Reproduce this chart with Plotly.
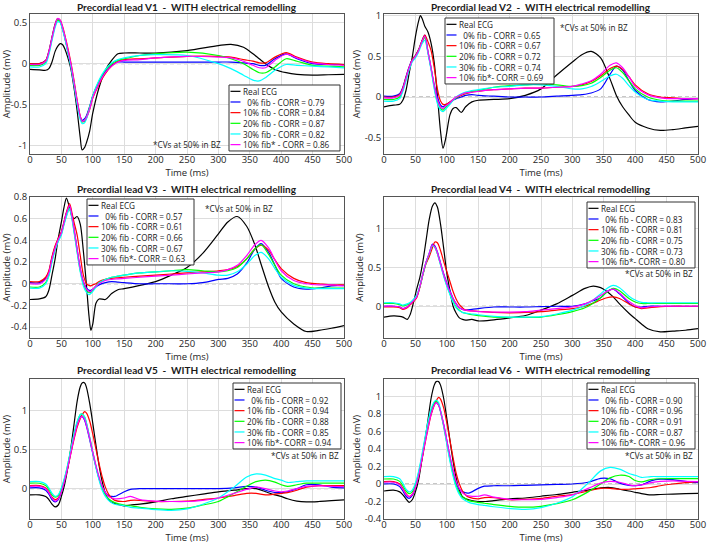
import plotly.graph_objects as go

# ---------------- data ----------------
TIME_TICKS = [0, 50, 100, 150, 200, 250, 300, 350, 400, 450, 500]

# ---- V1 ----
V1_T = [0, 15, 25, 30, 35, 40, 44, 48, 52, 56, 60, 65, 70, 75, 80, 83, 87, 90, 95, 100,
        110, 120, 130, 140, 150, 175, 200, 250, 300, 320, 340, 355, 365, 375, 390, 408, 425, 450, 475, 500]
V1_REAL = [-0.07, -0.075, -0.08, -0.06, 0.02, 0.15, 0.21, 0.245, 0.23, 0.17,
           0.08, -0.06, -0.29, -0.57, -0.9, -1.05, -1.02, -0.96, -0.82, -0.6,
           -0.29, -0.08, 0.04, 0.12, 0.13, 0.13, 0.13, 0.16, 0.22, 0.235,
           0.2, 0.12, 0.06, 0.0, -0.07, -0.11, -0.13, -0.14, -0.135, -0.13]
V1_FIB0 = [0.0, 0.0, 0.04, 0.15, 0.32, 0.48, 0.55, 0.52, 0.42, 0.3,
           0.16, -0.02, -0.24, -0.47, -0.65, -0.69, -0.67, -0.63, -0.52, -0.39,
           -0.22, -0.1, -0.02, 0.02, 0.02, 0.02, 0.02, 0.02, 0.02, 0.02,
           0.01, 0.0, -0.02, -0.02, 0.06, 0.12, 0.06, 0.0, -0.01, -0.01]
V1_FIB10 = [0.0, 0.0, 0.04, 0.15, 0.32, 0.48, 0.55, 0.53, 0.45, 0.33,
            0.2, 0.02, -0.2, -0.44, -0.64, -0.7, -0.7, -0.66, -0.56, -0.42,
            -0.25, -0.12, -0.03, 0.03, 0.05, 0.06, 0.07, 0.09, 0.09, 0.08,
            0.05, 0.03, 0.01, 0.01, 0.08, 0.135, 0.08, 0.02, 0.0, -0.01]
V1_FIB20 = [-0.02, -0.02, 0.02, 0.13, 0.3, 0.46, 0.53, 0.51, 0.42, 0.3,
            0.16, -0.02, -0.24, -0.47, -0.66, -0.71, -0.69, -0.65, -0.53, -0.39,
            -0.21, -0.08, 0.0, 0.04, 0.06, 0.1, 0.12, 0.14, 0.1, 0.06,
            0.0, -0.07, -0.11, -0.11, -0.04, 0.06, 0.03, -0.02, -0.03, -0.04]
V1_FIB30 = [-0.04, -0.04, 0.0, 0.11, 0.28, 0.44, 0.51, 0.5, 0.41, 0.29,
            0.15, -0.03, -0.25, -0.49, -0.68, -0.73, -0.72, -0.67, -0.54, -0.39,
            -0.2, -0.07, 0.01, 0.05, 0.07, 0.1, 0.11, 0.1, 0.0, -0.06,
            -0.14, -0.2, -0.21, -0.17, -0.08, -0.01, -0.02, -0.03, -0.04, -0.05]
V1_FIB10S = [-0.01, -0.01, 0.03, 0.14, 0.31, 0.47, 0.55, 0.53, 0.44, 0.32,
             0.18, 0.0, -0.22, -0.45, -0.64, -0.7, -0.69, -0.65, -0.55, -0.41,
             -0.24, -0.11, -0.03, 0.02, 0.04, 0.05, 0.07, 0.09, 0.08, 0.07,
             0.03, -0.02, -0.05, -0.05, 0.04, 0.115, 0.07, 0.01, -0.01, -0.02]
V1_CORR = ["0.79", "0.84", "0.87", "0.82", "0.86"]

# ---- V2 ----
V2_T = [0, 15, 25, 30, 35, 40, 45, 50, 55, 58, 61, 65, 70, 75, 80, 85, 90, 94, 98, 105,
        110, 115, 123, 130, 140, 150, 175, 200, 225, 250, 275, 300, 315, 330, 345, 360, 370, 380, 390, 400,
        420, 440, 460, 480, 500]
V2_REAL = [-0.12, -0.1, -0.09, -0.04, 0.08, 0.29, 0.49, 0.74, 0.93, 1.0,
           0.96, 0.87, 0.8, 0.66, 0.42, 0.02, -0.42, -0.63, -0.52, -0.22,
           -0.14, -0.13, -0.19, -0.12, -0.06, -0.04, -0.03, -0.02, 0.02, 0.1,
           0.27, 0.43, 0.52, 0.56, 0.48, 0.22, 0.02, -0.12, -0.22, -0.31,
           -0.38, -0.41, -0.4, -0.38, -0.36]
V2_FIB0 = [0.01, 0.01, 0.04, 0.12, 0.25, 0.37, 0.46, 0.51, 0.58, 0.64,
           0.7, 0.76, 0.55, 0.35, 0.15, 0.0, -0.1, -0.12, -0.1, -0.06,
           -0.04, -0.02, 0.0, 0.02, 0.03, 0.02, 0.01, 0.0, 0.0, 0.0,
           0.01, 0.02, 0.03, 0.05, 0.1, 0.28, 0.38, 0.33, 0.2, 0.08,
           -0.03, -0.06, -0.05, -0.03, -0.02]
V2_FIB10 = [0.0, 0.0, 0.03, 0.11, 0.24, 0.36, 0.46, 0.51, 0.58, 0.64,
            0.7, 0.76, 0.68, 0.57, 0.36, 0.1, -0.05, -0.09, -0.09, -0.06,
            -0.03, -0.01, 0.02, 0.04, 0.06, 0.07, 0.09, 0.1, 0.11, 0.11,
            0.12, 0.13, 0.15, 0.19, 0.26, 0.35, 0.38, 0.34, 0.25, 0.15,
            0.04, 0.0, -0.01, -0.02, -0.02]
V2_FIB20 = [-0.03, -0.03, 0.0, 0.09, 0.22, 0.35, 0.45, 0.5, 0.57, 0.63,
            0.68, 0.73, 0.56, 0.35, 0.12, -0.06, -0.14, -0.16, -0.13, -0.08,
            -0.04, -0.01, 0.03, 0.05, 0.07, 0.08, 0.12, 0.14, 0.15, 0.16,
            0.15, 0.13, 0.14, 0.17, 0.24, 0.33, 0.36, 0.3, 0.2, 0.1,
            0.0, -0.04, -0.05, -0.05, -0.05]
V2_FIB30 = [-0.05, -0.05, -0.02, 0.07, 0.2, 0.33, 0.43, 0.48, 0.55, 0.61,
            0.66, 0.7, 0.54, 0.33, 0.1, -0.08, -0.16, -0.18, -0.15, -0.09,
            -0.04, 0.0, 0.04, 0.06, 0.08, 0.09, 0.12, 0.13, 0.15, 0.15,
            0.13, 0.1, 0.1, 0.13, 0.19, 0.26, 0.28, 0.23, 0.14, 0.06,
            -0.03, -0.05, -0.06, -0.06, -0.06]
V2_FIB10S = [-0.01, -0.01, 0.02, 0.1, 0.23, 0.36, 0.45, 0.5, 0.57, 0.63,
             0.69, 0.75, 0.56, 0.36, 0.14, -0.03, -0.12, -0.14, -0.11, -0.07,
             -0.03, 0.0, 0.03, 0.05, 0.06, 0.07, 0.09, 0.1, 0.11, 0.11,
             0.12, 0.13, 0.16, 0.2, 0.28, 0.39, 0.42, 0.36, 0.25, 0.13,
             0.03, -0.01, -0.02, -0.02, -0.02]
V2_CORR = ["0.65", "0.67", "0.72", "0.74", "0.69"]

# ---- V3 ----
V3_T = [0, 15, 25, 30, 35, 40, 45, 50, 54, 58, 63, 67, 70, 75, 80, 85, 90, 94, 97, 100,
        105, 110, 120, 130, 140, 150, 175, 200, 225, 250, 275, 300, 315, 330, 345, 358, 368, 380, 390, 400,
        420, 440, 460, 480, 500]
V3_REAL = [-0.145, -0.14, -0.12, -0.06, 0.08, 0.23, 0.42, 0.57, 0.7, 0.79,
           0.7, 0.62, 0.6, 0.62, 0.55, 0.3, -0.02, -0.3, -0.43, -0.37,
           -0.18, -0.14, -0.145, -0.09, -0.055, -0.045, -0.015, 0.02, 0.08, 0.15,
           0.28, 0.46, 0.57, 0.62, 0.53, 0.36, 0.18, -0.03, -0.17, -0.26,
           -0.37, -0.44, -0.43, -0.41, -0.385]
V3_FIB0 = [0.01, 0.01, 0.05, 0.11, 0.24, 0.34, 0.41, 0.47, 0.56, 0.65,
           0.72, 0.62, 0.51, 0.32, 0.14, 0.02, -0.04, -0.06, -0.06, -0.05,
           -0.03, -0.01, 0.01, 0.02, 0.015, 0.01, 0.0, 0.0, 0.0, 0.0,
           0.01, 0.04, 0.05, 0.09, 0.19, 0.32, 0.37, 0.29, 0.17, 0.05,
           -0.03, -0.05, -0.04, -0.02, -0.015]
V3_FIB10 = [0.02, 0.02, 0.06, 0.12, 0.25, 0.35, 0.42, 0.48, 0.57, 0.66,
            0.74, 0.65, 0.57, 0.45, 0.26, 0.08, 0.0, -0.015, -0.02, -0.01,
            0.0, 0.02, 0.04, 0.05, 0.055, 0.06, 0.07, 0.08, 0.09, 0.1,
            0.11, 0.12, 0.13, 0.16, 0.23, 0.32, 0.355, 0.31, 0.22, 0.14,
            0.05, 0.01, 0.0, -0.01, -0.01]
V3_FIB20 = [-0.03, -0.03, 0.01, 0.08, 0.21, 0.32, 0.4, 0.46, 0.55, 0.63,
            0.7, 0.6, 0.49, 0.3, 0.12, 0.0, -0.06, -0.08, -0.08, -0.06,
            -0.02, 0.01, 0.04, 0.06, 0.07, 0.08, 0.1, 0.11, 0.12, 0.13,
            0.12, 0.11, 0.12, 0.15, 0.23, 0.32, 0.36, 0.27, 0.17, 0.08,
            0.0, -0.03, -0.04, -0.04, -0.04]
V3_FIB30 = [-0.04, -0.04, 0.0, 0.07, 0.2, 0.31, 0.39, 0.45, 0.54, 0.62,
            0.69, 0.59, 0.48, 0.29, 0.11, -0.02, -0.08, -0.1, -0.09, -0.07,
            -0.03, 0.01, 0.04, 0.06, 0.07, 0.08, 0.1, 0.11, 0.12, 0.115,
            0.1, 0.08, 0.08, 0.11, 0.18, 0.26, 0.29, 0.23, 0.14, 0.06,
            -0.015, -0.04, -0.045, -0.045, -0.045]
V3_FIB10S = [0.0, 0.0, 0.04, 0.1, 0.23, 0.33, 0.41, 0.47, 0.56, 0.65,
             0.72, 0.62, 0.51, 0.32, 0.14, 0.02, -0.05, -0.07, -0.07, -0.05,
             -0.02, 0.0, 0.03, 0.04, 0.045, 0.05, 0.06, 0.07, 0.08, 0.09,
             0.1, 0.11, 0.13, 0.17, 0.26, 0.36, 0.4, 0.33, 0.22, 0.12,
             0.03, 0.0, -0.01, -0.01, -0.02]
V3_CORR = ["0.57", "0.61", "0.66", "0.67", "0.63"]

# ---- V4 ----
V4_T = [0, 15, 25, 30, 37, 42, 47, 52, 57, 62, 67, 72, 77, 81, 85, 90, 95, 100, 105, 110,
        115, 120, 125, 130, 140, 150, 175, 200, 225, 250, 275, 300, 320, 333, 345, 355, 365, 375, 390, 400,
        410, 420, 440, 460, 480, 500]
V4_REAL = [-0.14, -0.125, -0.13, -0.14, -0.17, -0.1, 0.05, 0.22, 0.37, 0.58,
           0.85, 1.12, 1.29, 1.335, 1.28, 1.06, 0.75, 0.43, 0.2, 0.0,
           -0.09, -0.15, -0.17, -0.18, -0.17, -0.19, -0.175, -0.15, -0.12, -0.05,
           0.03, 0.14, 0.23, 0.26, 0.24, 0.19, 0.12, 0.03, -0.09, -0.16,
           -0.23, -0.29, -0.33, -0.32, -0.31, -0.29]
V4_FIB0 = [0.0, 0.0, -0.01, -0.03, -0.01, 0.03, 0.07, 0.12, 0.25, 0.42,
           0.57, 0.68, 0.8, 0.78, 0.7, 0.56, 0.42, 0.3, 0.2, 0.1,
           0.03, -0.02, -0.04, -0.05, -0.04, -0.03, -0.01, -0.01, -0.01, -0.005,
           0.0, 0.0, 0.03, 0.07, 0.11, 0.19, 0.22, 0.16, 0.04, -0.01,
           -0.01, 0.0, 0.0, 0.0, 0.0, 0.0]
V4_FIB10 = [-0.01, -0.01, -0.02, -0.04, -0.02, 0.02, 0.06, 0.11, 0.24, 0.41,
            0.55, 0.64, 0.75, 0.83, 0.82, 0.72, 0.58, 0.45, 0.32, 0.19,
            0.09, 0.02, -0.02, -0.05, -0.06, -0.065, -0.08, -0.085, -0.08, -0.07,
            -0.05, -0.03, 0.0, 0.04, 0.08, 0.11, 0.12, 0.1, 0.03, -0.01,
            -0.03, -0.02, -0.005, 0.0, 0.0, 0.0]
V4_FIB20 = [0.035, 0.035, 0.02, 0.005, 0.02, 0.04, 0.08, 0.13, 0.25, 0.41,
            0.56, 0.67, 0.78, 0.76, 0.68, 0.54, 0.4, 0.27, 0.16, 0.06,
            -0.01, -0.05, -0.08, -0.09, -0.11, -0.12, -0.14, -0.145, -0.145, -0.14,
            -0.11, -0.07, -0.02, 0.04, 0.11, 0.18, 0.23, 0.2, 0.1, 0.055,
            0.035, 0.035, 0.035, 0.035, 0.035, 0.035]
V4_FIB30 = [0.045, 0.045, 0.03, 0.015, 0.03, 0.05, 0.09, 0.14, 0.26, 0.42,
            0.57, 0.68, 0.78, 0.76, 0.68, 0.53, 0.39, 0.26, 0.15, 0.05,
            -0.02, -0.06, -0.08, -0.09, -0.1, -0.11, -0.13, -0.14, -0.14, -0.135,
            -0.1, -0.05, 0.01, 0.08, 0.16, 0.23, 0.27, 0.24, 0.13, 0.08,
            0.05, 0.045, 0.045, 0.045, 0.045, 0.045]
V4_FIB10S = [0.0, 0.0, -0.01, -0.03, -0.01, 0.03, 0.07, 0.12, 0.25, 0.42,
             0.57, 0.68, 0.79, 0.77, 0.69, 0.55, 0.41, 0.29, 0.19, 0.1,
             0.03, -0.02, -0.04, -0.05, -0.06, -0.07, -0.075, -0.075, -0.07, -0.05,
             -0.03, -0.01, 0.03, 0.08, 0.14, 0.19, 0.22, 0.17, 0.06, 0.01,
             -0.02, -0.01, 0.0, 0.0, 0.0, 0.0]
V4_CORR = ["0.83", "0.81", "0.75", "0.73", "0.80"]

# ---- V5 ----
V5_T = [0, 15, 25, 30, 35, 40, 45, 50, 55, 60, 65, 70, 75, 80, 83, 87, 90, 95, 100, 105,
        110, 115, 120, 125, 130, 135, 150, 160, 175, 200, 225, 250, 275, 300, 325, 345, 360, 375, 390, 400,
        410, 425, 440, 460, 480, 500]
V5_REAL = [-0.08, -0.08, -0.1, -0.14, -0.2, -0.235, -0.21, -0.1, 0.05, 0.26,
           0.52, 0.82, 1.12, 1.31, 1.36, 1.36, 1.3, 1.1, 0.84, 0.56,
           0.3, 0.09, -0.06, -0.14, -0.175, -0.19, -0.22, -0.21, -0.2, -0.17,
           -0.13, -0.1, -0.07, -0.04, -0.02, 0.0, 0.0, -0.04, -0.08, -0.1,
           -0.13, -0.16, -0.17, -0.165, -0.155, -0.145]
V5_FIB0 = [0.01, 0.01, -0.02, -0.07, -0.14, -0.17, -0.14, -0.04, 0.1, 0.27,
           0.47, 0.66, 0.82, 0.92, 0.93, 0.88, 0.8, 0.63, 0.45, 0.28,
           0.13, 0.02, -0.05, -0.09, -0.1, -0.1, -0.04, -0.01, 0.0, 0.0,
           0.0, 0.0, 0.0, 0.0, 0.01, 0.03, 0.02, -0.02, -0.05, -0.05,
           -0.04, 0.0, 0.05, 0.05, 0.02, 0.01]
V5_FIB10 = [0.04, 0.04, 0.01, -0.04, -0.11, -0.14, -0.12, -0.03, 0.1, 0.26,
            0.45, 0.63, 0.79, 0.9, 0.95, 0.99, 0.97, 0.87, 0.7, 0.51,
            0.32, 0.15, 0.02, -0.07, -0.12, -0.15, -0.165, -0.15, -0.15, -0.165,
            -0.165, -0.16, -0.14, -0.12, -0.09, -0.06, -0.06, -0.08, -0.07, -0.06,
            -0.05, -0.02, 0.02, 0.04, 0.04, 0.04]
V5_FIB20 = [0.07, 0.07, 0.04, -0.01, -0.08, -0.11, -0.09, 0.0, 0.13, 0.3,
            0.5, 0.69, 0.85, 0.95, 0.96, 0.92, 0.84, 0.66, 0.47, 0.29,
            0.13, 0.0, -0.08, -0.13, -0.16, -0.18, -0.21, -0.22, -0.24, -0.26,
            -0.265, -0.25, -0.21, -0.165, -0.06, 0.03, 0.09, 0.11, 0.085, 0.05,
            0.03, 0.05, 0.07, 0.07, 0.07, 0.07]
V5_FIB30 = [0.09, 0.09, 0.06, 0.01, -0.06, -0.1, -0.08, 0.01, 0.14, 0.31,
            0.51, 0.7, 0.86, 0.95, 0.96, 0.92, 0.84, 0.66, 0.46, 0.27,
            0.11, -0.02, -0.1, -0.15, -0.18, -0.2, -0.22, -0.24, -0.25, -0.27,
            -0.28, -0.26, -0.2, -0.12, 0.02, 0.15, 0.19, 0.175, 0.13, 0.11,
            0.08, 0.09, 0.1, 0.1, 0.1, 0.1]
V5_FIB10S = [0.03, 0.03, 0.0, -0.05, -0.12, -0.16, -0.13, -0.04, 0.1, 0.27,
             0.46, 0.65, 0.81, 0.91, 0.93, 0.89, 0.81, 0.65, 0.47, 0.3,
             0.15, 0.03, -0.05, -0.1, -0.12, -0.13, -0.12, -0.1, -0.14, -0.16,
             -0.165, -0.165, -0.15, -0.12, -0.06, -0.01, 0.02, 0.0, -0.03, -0.04,
             -0.03, 0.0, 0.03, 0.035, 0.03, 0.025]
V5_CORR = ["0.92", "0.94", "0.88", "0.85", "0.94"]

# ---- V6 ----
V6_T = [0, 15, 25, 30, 35, 40, 45, 50, 55, 60, 65, 70, 75, 80, 83, 87, 90, 95, 100, 105,
        110, 115, 120, 125, 130, 135, 150, 160, 175, 200, 225, 250, 275, 300, 325, 345, 360, 375, 390, 400,
        410, 425, 440, 460, 480, 500]
V6_REAL = [-0.08, -0.07, -0.09, -0.125, -0.17, -0.21, -0.18, -0.09, 0.045, 0.26,
           0.485, 0.73, 0.98, 1.13, 1.17, 1.17, 1.13, 0.98, 0.75, 0.5,
           0.26, 0.065, -0.07, -0.145, -0.17, -0.18, -0.2, -0.2, -0.19, -0.17,
           -0.16, -0.14, -0.12, -0.095, -0.07, -0.045, -0.04, -0.06, -0.08, -0.095,
           -0.11, -0.125, -0.12, -0.115, -0.11, -0.107]
V6_FIB0 = [0.0, 0.0, -0.03, -0.08, -0.14, -0.165, -0.13, -0.04, 0.1, 0.28,
           0.48, 0.66, 0.81, 0.91, 0.93, 0.9, 0.83, 0.68, 0.5, 0.31,
           0.14, 0.01, -0.06, -0.09, -0.1, -0.105, -0.05, -0.025, -0.02, -0.02,
           -0.015, -0.01, -0.005, 0.0, 0.02, 0.065, 0.06, 0.01, -0.015, -0.02,
           -0.01, 0.035, 0.055, 0.05, 0.03, 0.015]
V6_FIB10 = [0.027, 0.027, 0.0, -0.05, -0.11, -0.145, -0.12, -0.04, 0.09, 0.26,
            0.45, 0.63, 0.79, 0.9, 0.95, 0.99, 0.97, 0.87, 0.7, 0.5,
            0.3, 0.12, 0.0, -0.08, -0.125, -0.15, -0.17, -0.155, -0.155, -0.18,
            -0.175, -0.165, -0.14, -0.12, -0.08, -0.05, -0.05, -0.06, -0.06, -0.055,
            -0.05, -0.04, -0.02, 0.0, 0.015, 0.027]
V6_FIB20 = [0.057, 0.057, 0.03, -0.02, -0.08, -0.11, -0.09, -0.01, 0.12, 0.3,
            0.5, 0.69, 0.84, 0.93, 0.95, 0.91, 0.83, 0.66, 0.47, 0.28,
            0.11, -0.02, -0.1, -0.15, -0.17, -0.19, -0.21, -0.22, -0.235, -0.255,
            -0.265, -0.255, -0.225, -0.18, -0.09, 0.0, 0.07, 0.1, 0.085, 0.04,
            0.025, 0.05, 0.06, 0.062, 0.062, 0.062]
V6_FIB30 = [0.085, 0.085, 0.06, 0.01, -0.06, -0.09, -0.07, 0.01, 0.14, 0.32,
            0.52, 0.71, 0.86, 0.94, 0.96, 0.93, 0.84, 0.66, 0.46, 0.26,
            0.09, -0.04, -0.12, -0.17, -0.19, -0.21, -0.235, -0.245, -0.26, -0.28,
            -0.29, -0.27, -0.22, -0.145, 0.01, 0.15, 0.19, 0.17, 0.12, 0.1,
            0.075, 0.085, 0.085, 0.085, 0.085, 0.085]
V6_FIB10S = [0.02, 0.02, -0.01, -0.06, -0.12, -0.145, -0.12, -0.04, 0.09, 0.27,
             0.46, 0.64, 0.8, 0.9, 0.93, 0.9, 0.83, 0.68, 0.5, 0.32,
             0.16, 0.03, -0.05, -0.1, -0.125, -0.135, -0.14, -0.125, -0.15, -0.175,
             -0.18, -0.175, -0.155, -0.125, -0.05, 0.01, 0.03, 0.02, -0.01, -0.02,
             -0.01, 0.015, 0.03, 0.035, 0.03, 0.027]
V6_CORR = ["0.90", "0.96", "0.91", "0.87", "0.96"]

LEADS = ["V1", "V2", "V3", "V4", "V5", "V6"]
TIMES = [V1_T, V2_T, V3_T, V4_T, V5_T, V6_T]
REAL = [V1_REAL, V2_REAL, V3_REAL, V4_REAL, V5_REAL, V6_REAL]
FIB0 = [V1_FIB0, V2_FIB0, V3_FIB0, V4_FIB0, V5_FIB0, V6_FIB0]
FIB10 = [V1_FIB10, V2_FIB10, V3_FIB10, V4_FIB10, V5_FIB10, V6_FIB10]
FIB20 = [V1_FIB20, V2_FIB20, V3_FIB20, V4_FIB20, V5_FIB20, V6_FIB20]
FIB30 = [V1_FIB30, V2_FIB30, V3_FIB30, V4_FIB30, V5_FIB30, V6_FIB30]
FIB10S = [V1_FIB10S, V2_FIB10S, V3_FIB10S, V4_FIB10S, V5_FIB10S, V6_FIB10S]
CORRS = [V1_CORR, V2_CORR, V3_CORR, V4_CORR, V5_CORR, V6_CORR]

# y-axis ticks per panel
Y_TICKS = [[-1, -0.5, 0, 0.5],
           [-0.5, 0, 0.5, 1],
           [-0.4, -0.2, 0, 0.2, 0.4, 0.6, 0.8],
           [0, 0.5, 1],
           [0, 0.5, 1],
           [-0.4, -0.2, 0, 0.2, 0.4, 0.6, 0.8, 1]]

# ---------------- styling / layout ----------------
FIG_W, FIG_H = 708, 545
FONT = "Open Sans"
TITLE_FONT = "Lato"
COLORS = ["#000000", "#0000ff", "#ff0000", "#00ff00", "#00ffff", "#ff00ff"]
Y_RANGES = [[-1.1, 0.605], [-0.7, 1.02], [-0.5, 0.8], [-0.41, 1.41], [-0.39, 1.41], [-0.4, 1.2]]
COL_X = [(30, 344), (384, 698)]
ROW_Y = [(14, 154), (197, 338), (379, 519)]
TITLE_Y = [7, 189, 370]
LEG_FONT = 8.2
LEG_PITCH = LEG_FONT * 1.3
# legend boxes in pixels: left, top, right
LEG_BOX = [(229, 85, 340), (445, 18, 554), (87, 199, 194),
           (587, 202, 695), (233, 383, 341), (587, 383, 695)]
# note "*CVs at 50% in BZ": x, y, anchor
NOTE_POS = [(223, 145, "right"), (558, 27, "left"), (203, 208, "left"),
            (695, 273, "right"), (341, 455, "right"), (695, 455, "right")]


def fx(p):
    return p / FIG_W


def fy(p):
    return 1 - p / FIG_H


fig = go.Figure()
layout = dict(
    width=FIG_W, height=FIG_H, margin=dict(l=0, r=0, t=0, b=0, autoexpand=False),
    paper_bgcolor="white", plot_bgcolor="white", showlegend=False,
    font=dict(family=FONT, size=9.5, color="#262626"),
)
shapes, annotations = [], []
NBSP = "\u00a0"

for i, lead in enumerate(LEADS):
    r, c = divmod(i, 2)
    suf = "" if i == 0 else str(i + 1)
    xa, ya = "x" + suf, "y" + suf
    star = "* - " if i == 0 else "*- "
    corr = CORRS[i]
    labels = ["Real ECG",
              NBSP * 2 + "0% fib - CORR = " + corr[0],
              "10% fib - CORR = " + corr[1],
              "20% fib - CORR = " + corr[2],
              "30% fib - CORR = " + corr[3],
              "10% fib" + star + "CORR = " + corr[4]]
    series = [REAL[i], FIB0[i], FIB10[i], FIB20[i], FIB30[i], FIB10S[i]]
    for k, ys in enumerate(series):
        fig.add_trace(go.Scatter(
            x=TIMES[i], y=ys, mode="lines", name=labels[k],
            line=dict(color=COLORS[k], width=1.2, shape="spline", smoothing=0.8),
            xaxis=xa, yaxis=ya, showlegend=False))

    x0, x1 = COL_X[c]
    y0, y1 = ROW_Y[r]
    layout["xaxis" + suf] = dict(
        domain=[fx(x0), fx(x1)], anchor=ya, range=[0, 500], automargin=False,
        tickvals=TIME_TICKS, ticktext=[str(t) for t in TIME_TICKS],
        showgrid=True, gridcolor="#dddddd", gridwidth=1, zeroline=False,
        showline=True, mirror=True, linecolor="#555555", linewidth=1,
        ticks="", ticklabelstandoff=-3, tickfont=dict(size=9.5, color="#262626"),
        title=dict(text="Time (ms)", font=dict(size=9.5, color="#262626"), standoff=0),
    )
    layout["yaxis" + suf] = dict(
        domain=[fy(y1), fy(y0)], anchor=xa, range=Y_RANGES[i], automargin=False,
        tickvals=Y_TICKS[i], ticktext=["%g" % v for v in Y_TICKS[i]],
        showgrid=True, gridcolor="#dddddd", gridwidth=1, zeroline=False,
        showline=True, mirror=True, linecolor="#555555", linewidth=1,
        ticks="", tickfont=dict(size=9.5, color="#262626"),
        title=dict(text="Amplitude (mV)", font=dict(size=9.5, color="#262626"), standoff=2),
    )
    # dashed zero reference line
    shapes.append(dict(type="line", xref=xa + " domain", yref=ya, x0=0, x1=1, y0=0, y1=0,
                       line=dict(color="#8c8c8c", width=1, dash="4px,3px"), layer="below"))
    # panel title
    annotations.append(dict(
        x=fx((x0 + x1) / 2), y=fy(TITLE_Y[r]), xref="paper", yref="paper",
        text="<b>Precordial lead " + lead + NBSP * 2 + "-" + NBSP * 2 + "WITH electrical remodelling</b>",
        showarrow=False, xanchor="center", yanchor="middle",
        font=dict(family=TITLE_FONT, size=10, color="#1a1a1a")))
    # legend box (drawn by hand so that rows are as compact as in the reference)
    lx0, ly0, lx1 = LEG_BOX[i]
    ly1 = ly0 + 6 * LEG_PITCH + 2
    yc_mid = (ly0 + ly1) / 2
    shapes.append(dict(type="rect", xref="paper", yref="paper",
                       x0=fx(lx0), x1=fx(lx1), y0=fy(ly1), y1=fy(ly0),
                       fillcolor="white", line=dict(color="#333333", width=1), layer="above"))
    for k in range(6):
        yc = yc_mid + (k - 2.5) * LEG_PITCH
        shapes.append(dict(type="line", xref="paper", yref="paper",
                           x0=fx(lx0 + 1.5), x1=fx(lx0 + 11.5), y0=fy(yc), y1=fy(yc),
                           line=dict(color=COLORS[k], width=1.2), layer="above"))
    annotations.append(dict(
        x=fx(lx0 + 12.5), y=fy(yc_mid), xref="paper", yref="paper", text="<br>".join(labels),
        showarrow=False, xanchor="left", yanchor="middle", align="left", borderpad=0,
        font=dict(family=FONT, size=LEG_FONT, color="#1a1a1a")))
    nx, ny, na = NOTE_POS[i]
    annotations.append(dict(
        x=fx(nx), y=fy(ny), xref="paper", yref="paper", text="*CVs at 50% in BZ",
        showarrow=False, xanchor=na, yanchor="middle",
        font=dict(family=FONT, size=LEG_FONT, color="#1a1a1a")))

layout["shapes"] = shapes
layout["annotations"] = annotations
fig.update_layout(**layout)
# remove the default page margin so the 708x545 figure fills the window exactly
fig.write_html("out.html", config={"displayModeBar": False},
               post_script="document.body.style.margin='0px';document.body.style.overflow='hidden';")
